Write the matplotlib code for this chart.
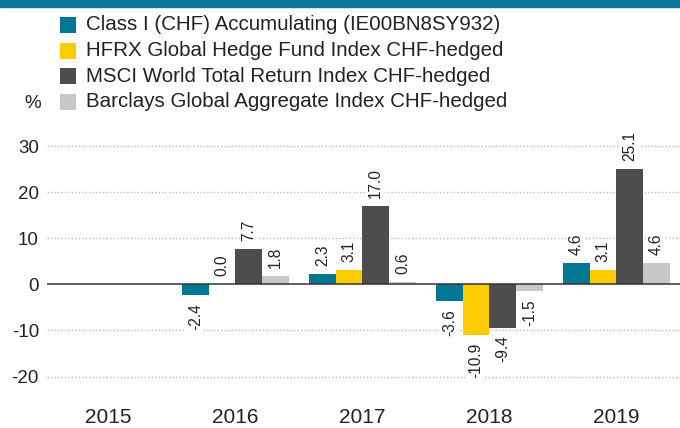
import matplotlib
matplotlib.use("Agg")
import matplotlib.pyplot as plt
import numpy as np
from matplotlib.patches import Rectangle

plt.rcParams['font.family'] = ['Liberation Sans', 'DejaVu Sans']

years = ["2015", "2016", "2017", "2018", "2019"]
series_names = [
    "Class I (CHF) Accumulating (IE00BN8SY932)",
    "HFRX Global Hedge Fund Index CHF-hedged",
    "MSCI World Total Return Index CHF-hedged",
    "Barclays Global Aggregate Index CHF-hedged",
]
class_i = [np.nan, -2.4, 2.3, -3.6, 4.6]
hfrx = [np.nan, 0.0, 3.1, -10.9, 3.1]
msci = [np.nan, 7.7, 17.0, -9.4, 25.1]
barclays = [np.nan, 1.8, 0.6, -1.5, 4.6]
series_values = [class_i, hfrx, msci, barclays]
colors = ["#007795", "#FFCC00", "#4D4D4D", "#C8C8C8"]
yticks = [-20, -10, 0, 10, 20, 30]

W, H = 680, 428
fig = plt.figure(figsize=(W / 100, H / 100), dpi=100)

# header strip
fig.patches.append(Rectangle((0, 1 - 6.5 / H), 1, 6.5 / H, transform=fig.transFigure,
                             color="#0B7595", zorder=5))

ax_left, ax_right = 47.3, 680
ax_top, ax_bot = 136.8, 399.6
ax = fig.add_axes([ax_left / W, 1 - ax_bot / H, (ax_right - ax_left) / W, (ax_bot - ax_top) / H])
ax.set_xlim(-0.48, 4.5)
ax.set_ylim(-25, 32)

x = np.arange(len(years))
bw = 0.21
text_color = "#222222"
for i, (vals, c) in enumerate(zip(series_values, colors)):
    pos = x + (i - 1.5) * bw
    ax.bar(pos, vals, width=bw, color=c, zorder=3, linewidth=0)
    for p, v in zip(pos, vals):
        if np.isnan(v):
            continue
        off = 5.8 if v >= 0 else -5.8
        ax.annotate(f"{v:.1f}", (p, v), xytext=(0, off), textcoords="offset points",
                    ha="center", va="bottom" if v >= 0 else "top", rotation=90,
                    fontsize=11.2, color=text_color, zorder=4,
                    bbox=dict(boxstyle="square,pad=0.1", fc="white", ec="none"))

for t in yticks:
    if t == 0:
        continue
    ax.axhline(t, color="#BBBBBB", lw=1.0, ls=(0, (1, 1.5)), zorder=1)
ax.axhline(0, color="#333333", lw=1.1, zorder=3.5)

ax.set_yticks(yticks)
ax.set_yticklabels([str(t) for t in yticks])
ax.set_xticks(x)
ax.set_xticklabels(years)
ax.tick_params(axis="both", length=0, colors=text_color)
ax.tick_params(axis="y", pad=6, labelsize=13.5)
ax.tick_params(axis="x", pad=6, labelsize=15)
for s in ax.spines.values():
    s.set_visible(False)

# legend
rows = [25, 50.5, 76, 101.5]
for name, c, yc in zip(series_names, colors, rows):
    fig.patches.append(Rectangle((60 / W, 1 - (yc + 8) / H), 16 / W, 16 / H,
                                 transform=fig.transFigure, color=c, lw=0))
    fig.text(86 / W, 1 - yc / H, name, fontsize=14.8, color=text_color, va="center", ha="left")
fig.text(33 / W, 1 - 103 / H, "%", fontsize=13.5, color=text_color, va="center", ha="center")

fig.savefig("out.png", dpi=100)
